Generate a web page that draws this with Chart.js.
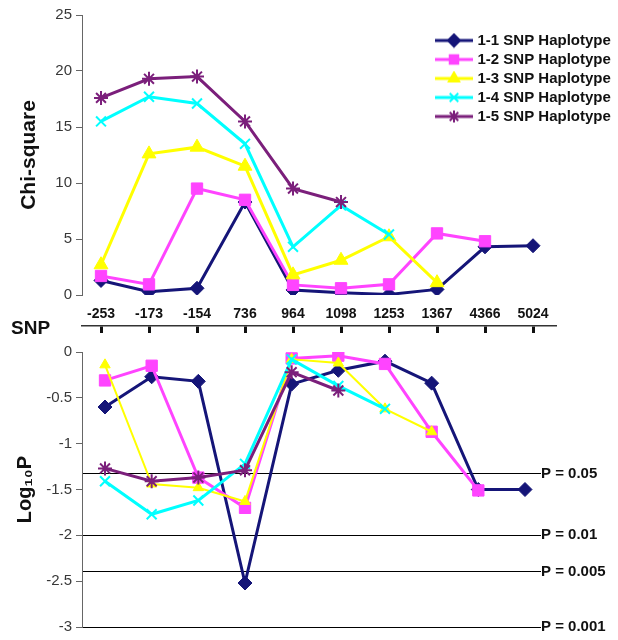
<!DOCTYPE html>
<html>
<head>
<meta charset="utf-8">
<script src="https://cdn.jsdelivr.net/npm/chart.js@4.4.1/dist/chart.umd.min.js"></script>
<style>
  body { margin: 0; background: #fff; }
  #wrap { position: relative; width: 618px; height: 640px; overflow: hidden; }
  canvas { position: absolute; left: 0; }
  #chiChart { top: 0; }
  #pChart { top: 336px; }
  #snpLabel { position: absolute; left: 11px; top: 317px; font: bold 19px Arial, "Liberation Sans", sans-serif; color: #111; }
</style>
</head>
<body>
<div id="wrap">
  <canvas id="chiChart" width="618" height="336"></canvas>
  <canvas id="pChart" width="618" height="304"></canvas>
  <div id="snpLabel">SNP</div>
</div>
<script>
// SNP positions (x categories)
const snpLabels = ['-253', '-173', '-154', '736', '964', '1098', '1253', '1367', '4366', '5024'];
const seriesNames = ['1-1 SNP Haplotype', '1-2 SNP Haplotype', '1-3 SNP Haplotype', '1-4 SNP Haplotype', '1-5 SNP Haplotype'];

// chi-square values (upper panel)
const chi11 = [1.3, 0.3, 0.6, 8.3, 0.45, 0.2, 0.05, 0.5, 4.3, 4.4];
const chi12 = [1.7, 0.95, 9.5, 8.5, 0.9, 0.6, 0.95, 5.5, 4.8, null];
const chi13 = [2.7, 12.6, 13.2, 11.5, 1.8, 3.1, 5.2, 1.1, null, null];
const chi14 = [15.5, 17.7, 17.1, 13.5, 4.3, 8.0, 5.4, null, null, null];
const chi15 = [17.6, 19.3, 19.5, 15.5, 9.5, 8.3, null, null, null, null];

// log10 P values (lower panel)
const logP11 = [-0.6, -0.27, -0.32, -2.52, -0.35, -0.2, -0.1, -0.34, -1.5, -1.5];
const logP12 = [-0.31, -0.15, -1.37, -1.7, -0.07, -0.04, -0.13, -0.87, -1.51, null];
const logP13 = [-0.14, -1.44, -1.48, -1.63, -0.08, -0.12, -0.62, -0.87, null, null];
const logP14 = [-1.41, -1.77, -1.62, -1.22, -0.08, -0.37, -0.62, null, null, null];
const logP15 = [-1.27, -1.41, -1.37, -1.29, -0.22, -0.42, null, null, null, null];

// significance lines
const pLineValues = [-1.33, -2, -2.4, -3];
const pLineLabels = ['P = 0.05', 'P = 0.01', 'P = 0.005', 'P = 0.001'];

const chiSeries = [chi11, chi12, chi13, chi14, chi15];
const logPSeries = [logP11, logP12, logP13, logP14, logP15];

// styles
const colors = ['#151578', '#ff44ff', '#ffff00', '#00ffff', '#7b1f7b'];
const pointStyles = ['rectRot', 'rect', 'triangle', 'crossRot', 'star'];
const pointRadius = [7, 8, 8, 7, 7];
const FONT = 'Arial, "Liberation Sans", sans-serif';

Chart.defaults.font.family = FONT;
Chart.defaults.animation = false;

function toPoints(arr) {
    return arr.map((v, i) => (v === null ? null : { x: i, y: v })).filter(p => p);
}

function makeDatasets(seriesList, thinYellow) {
    return seriesList.map((arr, i) => ({
        label: seriesNames[i],
        data: toPoints(arr),
        borderColor: colors[i],
        backgroundColor: colors[i],
        borderWidth: (thinYellow && i === 2) ? 2 : 3,
        pointStyle: pointStyles[i],
        pointRadius: (thinYellow && i === 2) ? 6 : pointRadius[i],
        pointBorderWidth: (i >= 3) ? 2 : 1,
        pointBackgroundColor: colors[i],
        pointBorderColor: colors[i],
        tension: 0,
        order: 5 - i
    }));
}

function makeIcon(i) {
    const c = document.createElement('canvas');
    c.width = 38;
    c.height = 16;
    const ctx = c.getContext('2d');
    ctx.strokeStyle = colors[i];
    ctx.fillStyle = colors[i];
    ctx.lineWidth = 3;
    ctx.beginPath();
    ctx.moveTo(0, 8);
    ctx.lineTo(38, 8);
    ctx.stroke();
    if (Chart.helpers && Chart.helpers.drawPoint) {
        ctx.lineWidth = 2;
        Chart.helpers.drawPoint(ctx, { pointStyle: pointStyles[i], radius: 6, rotation: 0, borderWidth: 2 }, 19, 8);
    }
    return c;
}
const legendIcons = seriesNames.map((n, i) => makeIcon(i));

const tickIdx = s => { s.ticks = snpLabels.map((_, i) => ({ value: i })); };

// move the legend box to the upper right corner
const legendSpot = {
    id: 'legendSpot',
    beforeDraw(chart) {
        const lg = chart.legend;
        if (!lg) return;
        const w = lg.width, h = lg.height;
        lg.left = 434; lg.right = 434 + w;
        lg.top = 29; lg.bottom = 29 + h;
    }
};

new Chart(document.getElementById('chiChart'), {
    type: 'line',
    data: { datasets: makeDatasets(chiSeries, false) },
    plugins: [legendSpot],
    options: {
        responsive: false,
        layout: { padding: { left: 0, right: 63, top: 15, bottom: 0 } },
        scales: {
            x: {
                type: 'linear', min: -0.396, max: 9.458, position: 'bottom', weight: 0,
                afterBuildTicks: tickIdx,
                afterFit: s => { s.height = 31; },
                border: { display: false },
                grid: { display: false, drawTicks: false },
                ticks: {
                    padding: 11, color: '#111', autoSkip: false, maxRotation: 0,
                    font: { size: 14, weight: 'bold' },
                    callback: v => snpLabels[Math.round(v)]
                }
            },
            x2: {
                type: 'linear', min: -0.396, max: 9.458, position: 'bottom', weight: 1,
                afterBuildTicks: tickIdx,
                afterFit: s => { s.height = 10; },
                border: { display: true, color: '#333', width: 1.5 },
                grid: { drawOnChartArea: false, drawTicks: true, tickLength: 7, color: '#111', lineWidth: 3 },
                ticks: { display: false }
            },
            y: {
                min: 0, max: 25, position: 'left',
                afterFit: s => { s.width = 82; },
                border: { color: '#666', width: 1 },
                grid: { drawOnChartArea: false, tickLength: 6, color: '#666' },
                ticks: { stepSize: 5, padding: 4, color: '#383838', font: { size: 15 } },
                title: {
                    display: true, text: 'Chi-square', color: '#111',
                    font: { size: 21, weight: 'bold' }, padding: { top: 17, bottom: 0 }
                }
            }
        },
        plugins: {
            tooltip: { enabled: false },
            legend: {
                position: 'chartArea',
                align: 'start',
                labels: {
                    usePointStyle: true,
                    pointStyleWidth: 32,
                    padding: 4,
                    color: '#111',
                    font: { size: 15, weight: 'bold' },
                    sort: (a, b) => a.datasetIndex - b.datasetIndex,
                    generateLabels: chart => Chart.defaults.plugins.legend.labels.generateLabels(chart)
                        .map(l => Object.assign(l, { pointStyle: legendIcons[l.datasetIndex] }))
                }
            }
        }
    }
});

new Chart(document.getElementById('pChart'), {
    type: 'line',
    data: { datasets: makeDatasets(logPSeries, true) },
    options: {
        responsive: false,
        layout: { padding: { left: 0, right: 0, top: 16, bottom: 8 } },
        scales: {
            x: { type: 'linear', display: false, min: -0.493, max: 9.343 },
            y: {
                min: -3, max: 0, position: 'left',
                afterFit: s => { s.width = 82; },
                border: { color: '#666', width: 1 },
                grid: { drawOnChartArea: false, tickLength: 6, color: '#666' },
                ticks: {
                    stepSize: 0.5, padding: 4, color: '#383838', font: { size: 15 },
                    callback: v => String(Math.round(v * 10) / 10)
                },
                title: {
                    display: true, text: 'Log\u2081\u2080P', color: '#111',
                    font: { size: 20, weight: 'bold' }, padding: { top: 13, bottom: 0 }
                }
            },
            yP: {
                min: -3, max: 0, position: 'right',
                afterBuildTicks: s => { s.ticks = pLineValues.map(v => ({ value: v })); },
                afterFit: s => { s.width = 77; },
                border: { display: false },
                grid: { color: '#000', lineWidth: 1, drawTicks: false },
                ticks: {
                    padding: 0, color: '#111', font: { size: 15, weight: 'bold' },
                    callback: v => pLineLabels[pLineValues.indexOf(v)]
                }
            }
        },
        plugins: {
            tooltip: { enabled: false },
            legend: { display: false }
        }
    }
});
</script>
</body>
</html>
